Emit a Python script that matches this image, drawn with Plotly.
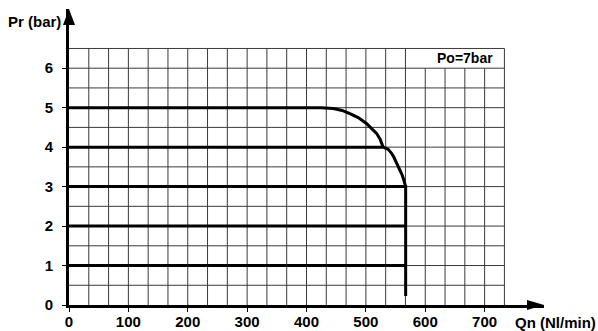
import plotly.graph_objects as go

# ---- data ----
x_ticks = [0, 100, 200, 300, 400, 500, 600, 700]
y_ticks = [0, 1, 2, 3, 4, 5, 6]
grid_x_step = 100 / 3
grid_x_max = 733.33
grid_y_step = 0.5
grid_y_max = 6.5
box_x_start = 600  # "Po=7bar" box starts here in top row

curve1_x = [0, 567, 567]
curve1_y = [1, 1, 1]
curve2_x = [0, 567]
curve2_y = [2, 2]
curve3_x = [0, 567, 567]
curve3_y = [3, 3, 0.23]
curve4_x = [0, 529, 537, 543, 547, 552, 557, 561, 564, 566, 567]
curve4_y = [4, 4, 3.95, 3.85, 3.75, 3.6, 3.45, 3.3, 3.16, 3.05, 3.0]
curve5_x = [0, 425, 445, 460, 473, 487, 501, 510, 518, 524, 529]
curve5_y = [5, 5, 4.98, 4.93, 4.85, 4.75, 4.6, 4.48, 4.35, 4.2, 4.0]

FONT = "Liberation Sans, Arial, sans-serif"
W, H = 598, 331

fig = go.Figure()

# grid lines
gx, gy = [], []
n_vx = int(round(grid_x_max / grid_x_step))
for i in range(1, n_vx + 1):
    xv = i * grid_x_step
    top = grid_y_max if (xv < box_x_start - 1 or i == n_vx) else 6.0
    gx += [xv, xv, None]
    gy += [0, top, None]
n_hy = int(round(grid_y_max / grid_y_step))
for j in range(1, n_hy + 1):
    yv = j * grid_y_step
    gx += [0, grid_x_max, None]
    gy += [yv, yv, None]
fig.add_trace(go.Scatter(x=gx, y=gy, mode="lines",
                         line=dict(color="#3a3a3a", width=1),
                         hoverinfo="skip", showlegend=False))

for cx, cy in [(curve1_x, curve1_y), (curve2_x, curve2_y), (curve3_x, curve3_y),
               (curve4_x, curve4_y), (curve5_x, curve5_y)]:
    fig.add_trace(go.Scatter(x=cx, y=cy, mode="lines",
                             line=dict(color="black", width=3),
                             hoverinfo="skip", showlegend=False))

tickfont = dict(family=FONT, size=15, color="black", weight="bold")
fig.update_layout(
    width=W, height=H,
    margin=dict(l=69, r=54, t=9, b=26, autoexpand=False),
    paper_bgcolor="white", plot_bgcolor="white",
    font=dict(family=FONT, size=15, color="black"),
    xaxis=dict(range=[0, 800], tickvals=x_ticks, showgrid=False, zeroline=False,
               showline=True, linecolor="black", linewidth=3,
               ticks="outside", ticklen=4, tickwidth=1, tickcolor="black",
               tickfont=tickfont, automargin=False, ticklabelstandoff=-3),
    yaxis=dict(range=[0, 7.5], tickvals=y_ticks, showgrid=False, zeroline=False,
               showline=True, linecolor="black", linewidth=3,
               ticks="outside", ticklen=4, tickwidth=1, tickcolor="black",
               tickfont=tickfont, automargin=False, ticklabelstandoff=6),
    shapes=[
        dict(type="path", xref="paper", yref="paper", xsizemode="pixel", ysizemode="pixel",
             xanchor=0, yanchor=1, path="M -6,-16 L 6,-16 L 0,0 Z",
             fillcolor="black", line=dict(width=0)),
        dict(type="path", xref="paper", yref="paper", xsizemode="pixel", ysizemode="pixel",
             xanchor=1, yanchor=0, path="M -17,-5 L -17,5 L 0,0 Z",
             fillcolor="black", line=dict(width=0)),
    ],
    annotations=[
        dict(text="<b>Pr (bar)</b>", xref="paper", yref="paper", x=0, y=1.0,
             xanchor="right", yanchor="top", xshift=-6, yshift=-2, showarrow=False,
             font=dict(family=FONT, size=15)),
        dict(text="<b>Qn (Nl/min)</b>", xref="paper", yref="paper", x=1.0, y=0,
             xanchor="right", yanchor="top", xshift=54, yshift=-7, showarrow=False,
             font=dict(family=FONT, size=15)),
        dict(text="<b>Po=7bar</b>", xref="x", yref="y", x=(box_x_start + grid_x_max) / 2, y=6.25,
             xanchor="center", yanchor="middle", showarrow=False,
             font=dict(family=FONT, size=14)),
    ],
)

fig.write_html("out.html", config={"displayModeBar": False},
               post_script="document.body.style.margin='0';document.body.style.overflow='hidden';")
